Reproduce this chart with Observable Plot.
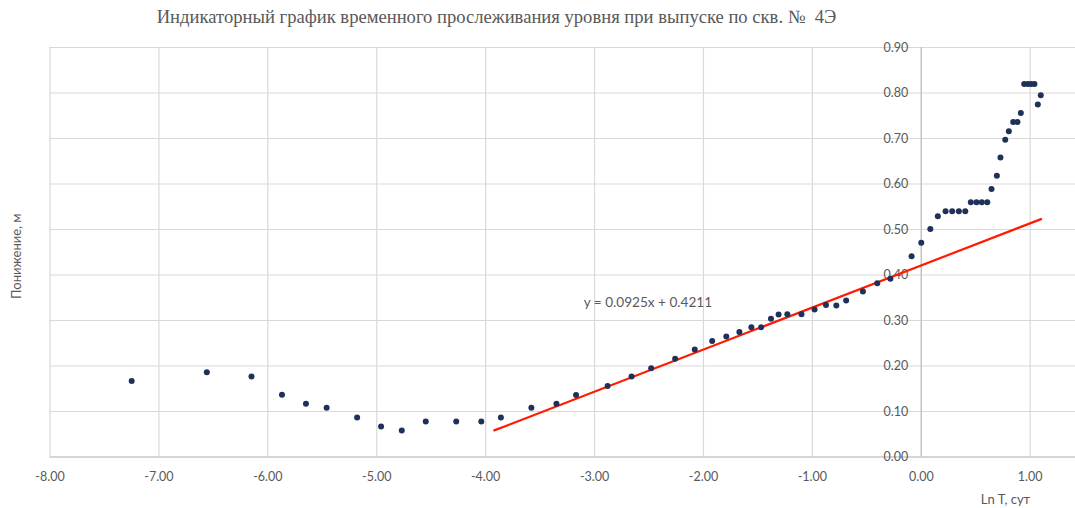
<!DOCTYPE html>
<html><head><meta charset="utf-8">
<script src="https://cdn.jsdelivr.net/npm/d3@7"></script>
<script src="https://cdn.jsdelivr.net/npm/@observablehq/plot@0.6"></script>
<style>
body{margin:0;background:#fff;}
#wrap{position:relative;width:1075px;height:508px;overflow:hidden;}
#wrap svg{position:absolute;left:0;top:0;}
#title{position:absolute;left:0;top:6px;width:993px;text-align:center;font-family:"Liberation Serif",serif;font-size:18.6px;color:#595959;white-space:pre;z-index:2;}
</style></head><body>
<div id="wrap"><div id="title">Индикаторный график временного прослеживания уровня при выпуске по скв. №  4Э</div></div>
<script>
// Observed data: ln T (сут) vs drawdown (м)
const lnT = [-7.25,-6.56,-6.15,-5.87,-5.65,-5.46,-5.18,-4.96,-4.77,-4.55,-4.27,-4.04,-3.86,-3.58,-3.35,-3.17,-2.88,-2.66,-2.48,-2.26,-2.08,-1.92,-1.79,-1.67,-1.56,-1.47,-1.38,-1.31,-1.23,-1.10,-0.98,-0.875,-0.78,-0.69,-0.536,-0.404,-0.284,-0.089,0.0,0.083,0.152,0.223,0.284,0.345,0.404,0.455,0.507,0.556,0.606,0.645,0.694,0.727,0.771,0.804,0.844,0.883,0.914,0.945,0.978,1.009,1.039,1.07,1.097];
const drawdown = [0.167,0.186,0.177,0.137,0.117,0.108,0.087,0.067,0.058,0.078,0.078,0.078,0.087,0.108,0.117,0.136,0.156,0.177,0.195,0.216,0.236,0.255,0.265,0.275,0.285,0.285,0.304,0.313,0.314,0.314,0.324,0.334,0.333,0.344,0.364,0.382,0.392,0.441,0.471,0.501,0.529,0.54,0.54,0.54,0.54,0.56,0.56,0.56,0.56,0.589,0.618,0.658,0.697,0.716,0.736,0.736,0.756,0.82,0.82,0.82,0.82,0.775,0.795];

// Linear trendline (Excel): y = 0.0925x + 0.4211 over its x span
const trendSlope = 0.0925;
const trendIntercept = 0.4211;
const trendSpan = [-3.92, 1.10];
const trendLabel = ["y = 0.0925x + 0.4211"];
const trendLabelPos = [{x: -3.10, y: 0.340}];

// Axis ticks (gridlines run to 2.00, which lies beyond the visible right edge)
const xGrid = [-8,-7,-6,-5,-4,-3,-2,-1,0,1,2];
const xTicks = [-8,-7,-6,-5,-4,-3,-2,-1,0,1];
const xTickLabels = ["-8.00","-7.00","-6.00","-5.00","-4.00","-3.00","-2.00","-1.00","0.00","1.00"];
const yTicks = [0,0.1,0.2,0.3,0.4,0.5,0.6,0.7,0.8,0.9];
const yTickLabels = ["0.00","0.10","0.20","0.30","0.40","0.50","0.60","0.70","0.80","0.90"];
const xTitle = "Ln T, сут";
const yTitle = "Понижение, м";

const points = lnT.map((x, i) => ({x, y: drawdown[i]}));
const trend = trendSpan.map(x => ({x, y: trendSlope * x + trendIntercept}));
const xt = xTicks.map((v, i) => ({v, label: xTickLabels[i]}));
const yt = yTicks.map((v, i) => ({v, label: yTickLabels[i]}));

const font = "Lato, 'Open Sans', sans-serif";
const gray = "#595959";

const chart = Plot.plot({
  width: 1075,
  height: 508,
  marginLeft: 0, marginRight: 0, marginTop: 0, marginBottom: 0,
  x: {domain: [-8, 2], range: [49.5, 1138.6], axis: null},
  y: {domain: [0, 0.9], range: [456.5, 47], axis: null},
  style: {fontFamily: font, background: "white"},
  marks: [
    Plot.ruleX(xGrid, {x: d => d, y1: 0, y2: 0.9, stroke: "#d9d9d9", strokeWidth: 1.2}),
    Plot.ruleY(yTicks, {y: d => d, x1: -8, x2: 2, stroke: "#d9d9d9", strokeWidth: 1.2}),
    Plot.ruleX([0], {x: d => d, y1: 0, y2: 0.9, stroke: "#bfbfbf", strokeWidth: 1.2}),
    Plot.ruleY([0], {y: d => d, x1: -8, x2: 2, stroke: "#bfbfbf", strokeWidth: 1.2}),
    Plot.text(yt, {x: () => 0, y: "v", text: "label", textAnchor: "end", dx: -13, fill: gray, fontSize: 12.5}),
    Plot.text(xt, {x: "v", y: () => 0, text: "label", dy: 20, fill: gray, fontSize: 12.5}),
    Plot.line(trend, {x: "x", y: "y", stroke: "#ff1a00", strokeWidth: 2.2}),
    Plot.dot(points, {x: "x", y: "y", r: 3, fill: "#1f3158", stroke: "none"}),
    Plot.text(trendLabelPos, {x: "x", y: "y", text: () => trendLabel[0], textAnchor: "start", fill: gray, fontSize: 13.6}),
    Plot.text([xTitle], {x: () => 1, y: () => 0, text: d => d, textAnchor: "end", dy: 43, fill: gray, fontSize: 13}),
    Plot.text([yTitle], {x: () => -8, y: () => 0.45, text: d => d, rotate: -90, dx: -33, dy: 4, fill: gray, fontSize: 13})
  ]
});
document.getElementById("wrap").appendChild(chart);
</script>
</body></html>
